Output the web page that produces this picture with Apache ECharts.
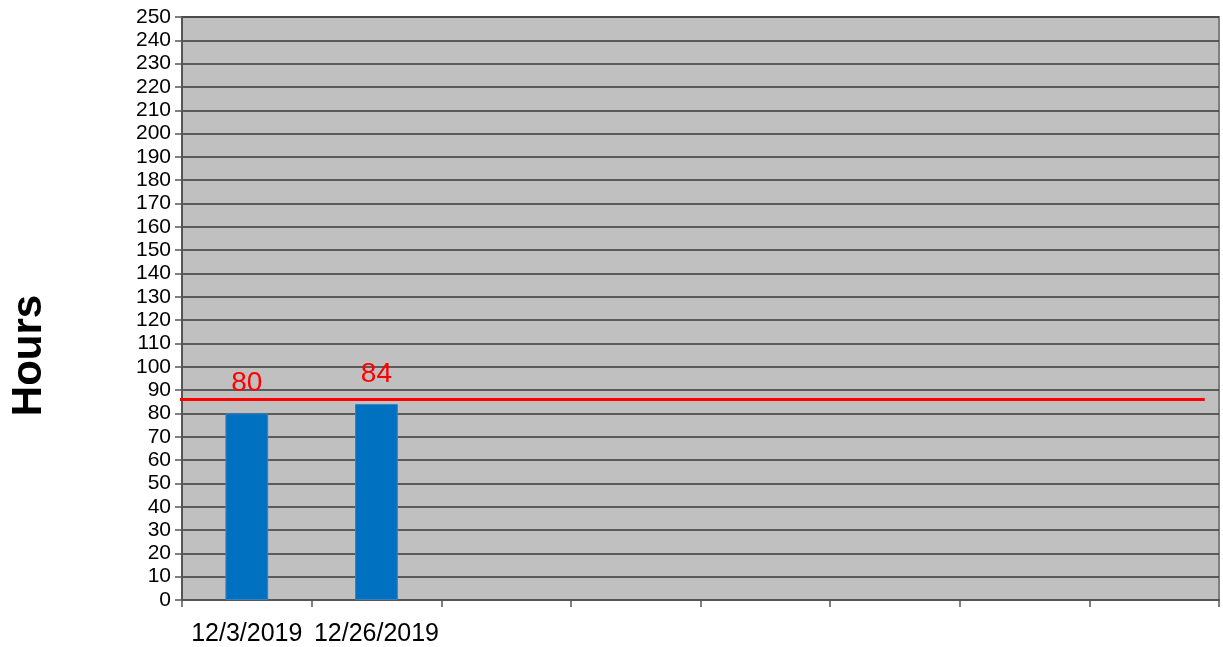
<!DOCTYPE html>
<html>
<head>
<meta charset="utf-8">
<script src="https://cdn.jsdelivr.net/npm/echarts@6/dist/echarts.min.js"></script>
<style>
  html, body { margin: 0; padding: 0; background: #fff; }
  #chart { width: 1223px; height: 647px; }
</style>
</head>
<body>
<div id="chart"></div>
<script>
// ===== 数据 =====
var categories = ['12/3/2019', '12/26/2019', '', '', '', '', '', ''];
var hours = [80, 84, null, null, null, null, null, null];
var targetValue = 86;
// 红线的起止位置（以类目宽度为单位）
var targetSpan = [-0.07, 7.89];

var chart = echarts.init(document.getElementById('chart'));

var option = {
  backgroundColor: '#ffffff',
  animation: false,
  grid: {
    left: 182, right: 4, top: 17, bottom: 47,
    outerBoundsMode: 'none',
    containLabel: false,
    show: true,
    backgroundColor: '#c0c0c0',
    borderColor: '#808080',
    borderWidth: 2
  },
  xAxis: [
    {
      type: 'category',
      data: categories,
      boundaryGap: true,
      axisLine: { show: true, lineStyle: { color: '#555', width: 2 } },
      axisTick: { show: true, alignWithLabel: false, length: 7, lineStyle: { color: '#555', width: 1.5 } },
      axisLabel: {
        color: '#000', fontFamily: 'Liberation Sans', fontSize: 25,
        margin: 22, interval: 0
      },
      splitLine: { show: false }
    },
    {
      // 隐藏的数值轴，用来画目标线
      type: 'value',
      min: 0, max: categories.length,
      show: false
    }
  ],
  yAxis: {
    type: 'value',
    min: 0, max: 250, interval: 10,
    name: 'Hours',
    nameLocation: 'middle',
    nameGap: 132,
    nameTextStyle: {
      color: '#000', fontFamily: 'Liberation Sans', fontSize: 42, fontWeight: 'bold',
      padding: [0, 94, 0, 0]
    },
    axisLine: { show: true, lineStyle: { color: '#555', width: 2 } },
    axisTick: { show: true, length: 7, lineStyle: { color: '#555', width: 1.5 } },
    axisLabel: { color: '#000', fontFamily: 'Liberation Sans', fontSize: 21, margin: 11 },
    splitLine: { show: true, lineStyle: { color: '#3a3a3a', width: 1.5 } }
  },
  series: [
    {
      type: 'bar',
      data: hours,
      barWidth: '33%',
      itemStyle: { color: '#0070c0', borderColor: '#3a7fc0', borderWidth: 1 },
      label: {
        show: true, position: 'top', distance: 16,
        color: '#ff0000', fontFamily: 'Liberation Sans', fontSize: 28
      },
      z: 2
    },
    {
      type: 'line',
      xAxisIndex: 1,
      data: [[targetSpan[0], targetValue], [targetSpan[1], targetValue]],
      symbol: 'none',
      lineStyle: { color: '#ff0000', width: 3 },
      clip: false,
      z: 3
    }
  ]
};

chart.setOption(option);
</script>
</body>
</html>
